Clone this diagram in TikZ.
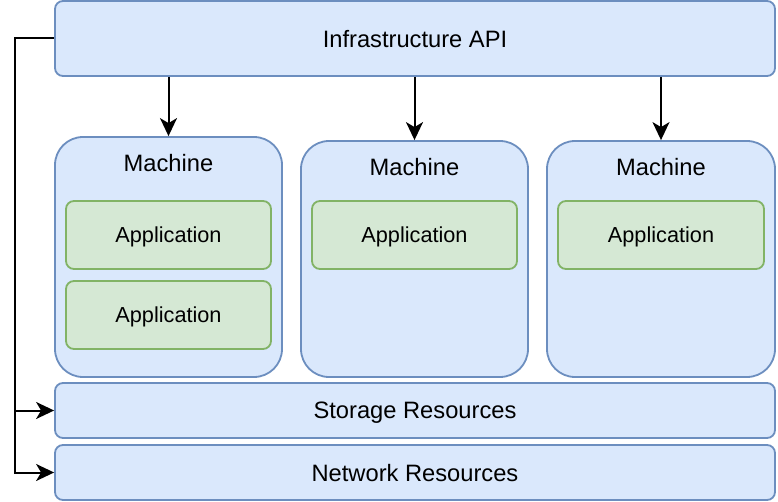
\documentclass[tikz,border=0pt]{standalone}
\usepackage{fontspec}
\setmainfont{Liberation Sans}
\usetikzlibrary{arrows.meta}
\definecolor{bluefill}{HTML}{DAE8FC}
\definecolor{bluedraw}{HTML}{6C8EBF}
\definecolor{greenfill}{HTML}{D5E8D4}
\definecolor{greendraw}{HTML}{82B366}

\begin{document}
\begin{tikzpicture}[x=1pt,y=-1pt,
    bluebox/.style={draw=bluedraw,fill=bluefill,line width=1.8pt,rounded corners=8pt,
        minimum width=720pt,font=\fontsize{23.7}{28}\selectfont,inner sep=0pt,text depth=0pt},
    machine/.style={draw=bluedraw,fill=bluefill,line width=1.8pt,rounded corners=28pt,
        minimum width=227pt,inner sep=0pt},
    mlabel/.style={font=\fontsize{23.7}{28}\selectfont,inner sep=0pt},
    app/.style={draw=greendraw,fill=greenfill,line width=1.8pt,rounded corners=8pt,
        minimum width=205pt,minimum height=68pt,inner sep=0pt,text depth=0pt,
        font=\fontsize{21.7}{26}\selectfont},
    conn/.style={line width=2pt,-{Stealth[length=18pt,width=17pt,inset=5pt]}}]
    \useasboundingbox (0,0) rectangle (778,502);

    \node[bluebox,minimum height=75pt] (API) at (415,38.5) {Infrastructure API};

    \node[machine,minimum height=240pt] (M1) at (168.5,257) {};
    \node[machine,minimum height=236pt] (M2) at (414.5,259) {};
    \node[machine,minimum height=236pt,minimum width=228pt] (M3) at (661,259) {};
    \node[mlabel] (M1t) at ([yshift=-27pt]M1.north) {Machine};
    \node[mlabel] (M2t) at ([yshift=-27pt]M2.north) {Machine};
    \node[mlabel] (M3t) at ([yshift=-27pt]M3.north) {Machine};

    \node[app] (A1) at (168.5,235) {Application};
    \node[app] (A2) at (168.5,315) {Application};
    \node[app] (A3) at (414.5,235) {Application};
    \node[app,minimum width=206pt] (A4) at (661,235) {Application};

    \node[bluebox,minimum height=55pt] (STO) at (415,410.5) {Storage Resources};
    \node[bluebox,minimum height=55pt] (NET) at (415,472.5) {Network Resources};

    \draw[conn] (API.south -| M1.north) -- (M1.north);
    \draw[conn] (API.south -| M2.north) -- (M2.north);
    \draw[conn] (API.south -| M3.north) -- (M3.north);

    \coordinate (J) at (15,38.5);
    \draw[conn] (API.west) -- (J) |- (STO.west);
    \draw[conn] (J) |- (NET.west);
\end{tikzpicture}
\end{document}
